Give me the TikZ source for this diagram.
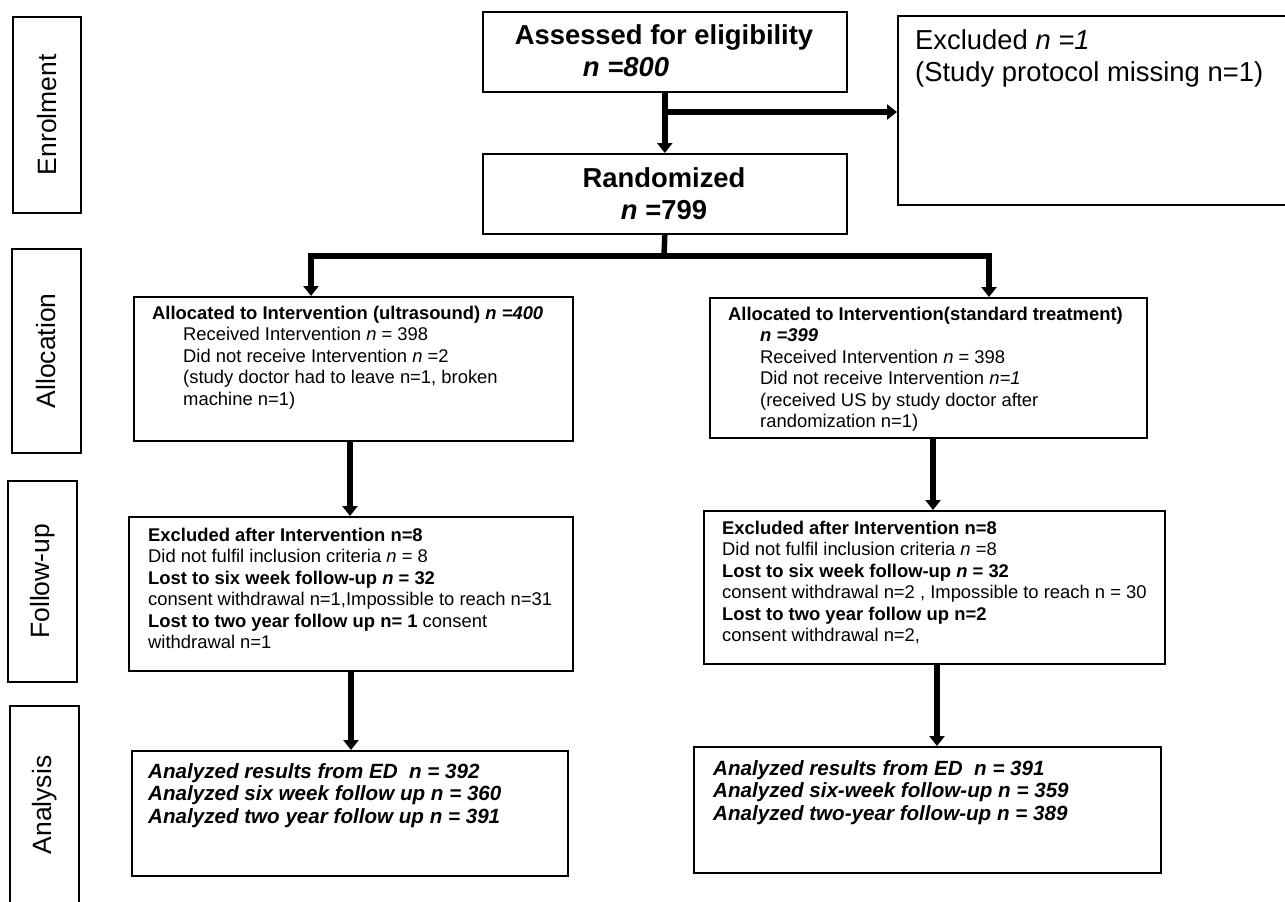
\documentclass[tikz,border=0pt]{standalone}
\usepackage{fontspec}
\setmainfont{Liberation Sans}
\usetikzlibrary{arrows.meta,calc}
\begin{document}
\begin{tikzpicture}[x=1pt,y=-1pt,
  box/.style={draw,line width=1.6pt,inner sep=0pt,anchor=north west},
  txt/.style={anchor=north west,align=left,inner sep=0pt},
  small/.style={font=\fontsize{18.4}{21.4}\selectfont},
  big/.style={font=\fontsize{27.4}{32}\selectfont},
  sidelabel/.style={rotate=90,font=\fontsize{26.5}{30}\selectfont},
  arr/.style={line width=5.5pt,-{Triangle[length=10pt,width=15pt]}},
  ln/.style={line width=5.5pt}]
\useasboundingbox (0,0) rectangle (1285,902);
\clip (0,0) rectangle (1285,902);

% side labels
\node[box,minimum width=68pt,minimum height=196pt] (s1) at (12,16) {};
\node[sidelabel] (s1t) at (s1.center) {Enrolment};
\node[box,minimum width=69pt,minimum height=204pt] (s2) at (11,248) {};
\node[sidelabel] (s2t) at (s2.center) {Allocation};
\node[box,minimum width=69pt,minimum height=201pt] (s3) at (7,480) {};
\node[sidelabel] (s3t) at (s3.center) {Follow-up};
\node[box,minimum width=69pt,minimum height=215pt] (s4) at (9,705) {};
\node[sidelabel] (s4t) at ($(s4.north)+(0,100)$) {Analysis};

% top boxes
\node[box,minimum width=364pt,minimum height=80pt] (assess) at (482,11) {};
\node[align=center,inner sep=0pt,font=\bfseries\fontsize{27.4}{32}\selectfont] (assesst) at (664,51)
  {Assessed for eligibility\\\textit{n =800}\hspace*{76pt}};
\node[box,minimum width=364pt,minimum height=80pt] (rand) at (482,153) {};
\node[align=center,inner sep=0pt,font=\bfseries\fontsize{27.4}{32}\selectfont] (randt) at (664,194)
  {Randomized\\\textit{n} =799};
\node[box,minimum width=400pt,minimum height=189pt] (excl) at (897,15) {};
\node[txt,big] (exclt) at (915,29)
  {Excluded \textit{n =1}\\(Study protocol missing n=1)};

% allocation
\node[box,minimum width=439pt,minimum height=144pt] (al1) at (133,296) {};
\node[txt,small] (al1t) at (152,306)
  {\textbf{Allocated to Intervention (ultrasound) \textit{n =400}}\\
   \hspace*{31pt}Received Intervention \textit{n} = 398\\
   \hspace*{31pt}Did not receive Intervention \textit{n} =2\\
   \hspace*{31pt}(study doctor had to leave n=1, broken\\
   \hspace*{31pt}machine n=1)};
\node[box,minimum width=437pt,minimum height=140pt] (al2) at (709,297) {};
\node[txt,small] (al2t) at (728,307)
  {\textbf{Allocated to Intervention(standard treatment)}\\
   \hspace*{32pt}\textbf{\textit{n =399}}\\
   \hspace*{32pt}Received Intervention \textit{n} = 398\\
   \hspace*{32pt}Did not receive Intervention \textit{n=1}\\
   \hspace*{32pt}(received US by study doctor after\\
   \hspace*{32pt}randomization n=1)};

% follow-up
\node[box,minimum width=444pt,minimum height=154pt] (fu1) at (128,516) {};
\node[txt,small] (fu1t) at (148,528)
  {\textbf{Excluded after Intervention n=8}\\
   Did not fulfil inclusion criteria \textit{n} = 8\\
   \textbf{Lost to six week follow-up \textit{n} = 32}\\
   consent withdrawal n=1,Impossible to reach n=31\\
   \textbf{Lost to two year follow up n= 1} consent\\
   withdrawal n=1};
\node[box,minimum width=461pt,minimum height=153pt] (fu2) at (703,510) {};
\node[txt,small] (fu2t) at (722,521)
  {\textbf{Excluded after Intervention n=8}\\
   Did not fulfil inclusion criteria \textit{n} =8\\
   \textbf{Lost to six week follow-up \textit{n} = 32}\\
   consent withdrawal n=2 , Impossible to reach n = 30\\
   \textbf{Lost to two year follow up n=2}\\
   consent withdrawal n=2,};

% analysis
\node[box,minimum width=436pt,minimum height=125pt] (an1) at (131,750) {};
\node[txt,font=\bfseries\itshape\fontsize{20.6}{22.5}\selectfont] (an1t) at (148,763)
  {Analyzed results from ED\ \ n = 392\\
   Analyzed six week follow up n = 360\\
   Analyzed two year follow up n = 391};
\node[box,minimum width=467pt,minimum height=126pt] (an2) at (693,746) {};
\node[txt,font=\bfseries\itshape\fontsize{20.6}{22.5}\selectfont] (an2t) at (713,760)
  {Analyzed results from ED\ \ n = 391\\
   Analyzed six-week follow-up n = 359\\
   Analyzed two-year follow-up n = 389};

% connectors
\coordinate (br) at (664,112);
\draw[arr] (assess.south) -- (rand.north);
\draw[arr] (br) -- (br -| excl.west);
\coordinate (split) at (664,256);
\coordinate (sl) at (311,256);
\coordinate (sr) at (989,256);
\draw[ln] (rand.south) -- (split);
\draw[ln,line cap=rect] (sl) -- (sr);
\draw[arr] (sl) -- (sl |- al1.north);
\draw[arr] (sr) -- (sr |- al2.north);
\coordinate (a1) at (350,440);
\coordinate (a2) at (933,437);
\draw[arr] (a1) -- (a1 |- fu1.north);
\draw[arr] (a2) -- (a2 |- fu2.north);
\coordinate (f1) at (351,670);
\coordinate (f2) at (937,663);
\draw[arr] (f1) -- (f1 |- an1.north);
\draw[arr] (f2) -- (f2 |- an2.north);
\end{tikzpicture}
\end{document}
